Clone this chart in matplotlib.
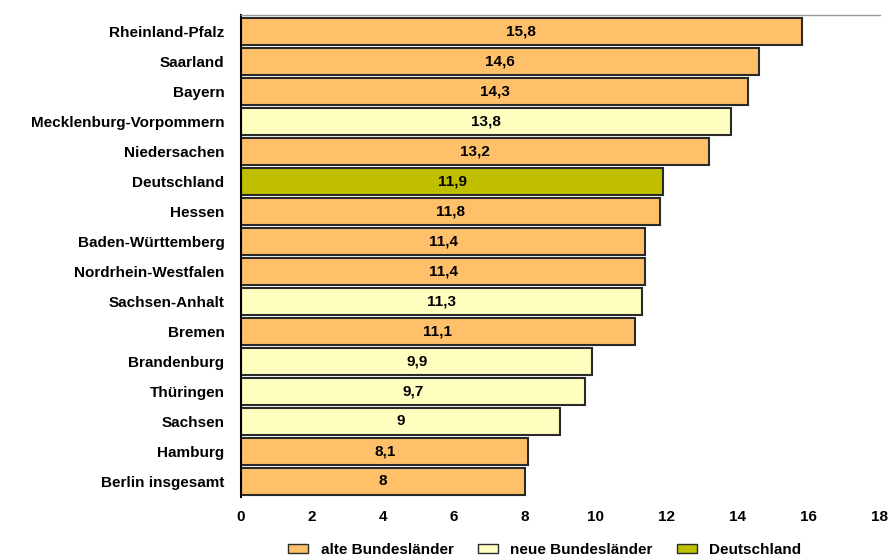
import matplotlib
matplotlib.use('Agg')
import matplotlib.pyplot as plt
from matplotlib.patches import Patch

plt.rcParams['font.family'] = ['Liberation Sans', 'DejaVu Sans']
plt.rcParams['font.weight'] = 'bold'

laender = ['Rheinland-Pfalz', 'Saarland', 'Bayern', 'Mecklenburg-Vorpommern',
           'Niedersachen', 'Deutschland', 'Hessen', 'Baden-Württemberg',
           'Nordrhein-Westfalen', 'Sachsen-Anhalt', 'Bremen', 'Brandenburg',
           'Thüringen', 'Sachsen', 'Hamburg', 'Berlin insgesamt']
werte = [15.8, 14.6, 14.3, 13.8, 13.2, 11.9, 11.8, 11.4, 11.4, 11.3, 11.1,
         9.9, 9.7, 9, 8.1, 8]
gruppe = ['alt', 'alt', 'alt', 'neu', 'alt', 'de', 'alt', 'alt', 'alt', 'neu',
          'alt', 'neu', 'neu', 'neu', 'alt', 'alt']
ticks = [0, 2, 4, 6, 8, 10, 12, 14, 16, 18]

farben = {'alt': '#FFC06A', 'neu': '#FFFFC0', 'de': '#BFBF00'}
namen = {'alt': 'alte Bundesländer', 'neu': 'neue Bundesländer', 'de': 'Deutschland'}

fs = 11

fig = plt.figure(figsize=(8.93, 5.56), dpi=100)
ax = fig.add_axes([0.270, 0.106, 0.715, 0.867])

y = list(range(len(laender)))
bars = ax.barh(y, werte, height=0.87, color=[farben[g] for g in gruppe],
               edgecolor='#2a2a2a', linewidth=1.5, zorder=2)

for i, v in enumerate(werte):
    txt = ('%g' % v).replace('.', ',')
    ax.text(v / 2, i, txt, ha='center', va='center', fontsize=fs,
            fontweight='bold', zorder=3)

ax.set_ylim(15.52, -0.55)
ax.set_xlim(0, 18)
ax.set_yticks(y)
ax.set_yticklabels(laender, fontsize=fs, fontweight='bold')
ax.set_xticks(ticks)
ax.set_xticklabels([str(t) for t in ticks], fontsize=fs, fontweight='bold')
ax.tick_params(axis='y', length=0, pad=12)
ax.tick_params(axis='x', length=0, pad=9)
for s in ['right', 'bottom']:
    ax.spines[s].set_visible(False)
ax.spines['top'].set_color('#999999')
ax.spines['top'].set_linewidth(1.0)
ax.spines['left'].set_linewidth(1.5)

handles = [Patch(facecolor=farben[k], edgecolor='#2a2a2a', label=namen[k])
           for k in ['alt', 'neu', 'de']]
fig.legend(handles=handles, loc='lower center', bbox_to_anchor=(0.61, -0.027),
           ncol=3, frameon=False, fontsize=fs, handlelength=1.3, handleheight=0.55,
           columnspacing=1.6, handletextpad=0.8)

plt.savefig('out.png', dpi=100)
